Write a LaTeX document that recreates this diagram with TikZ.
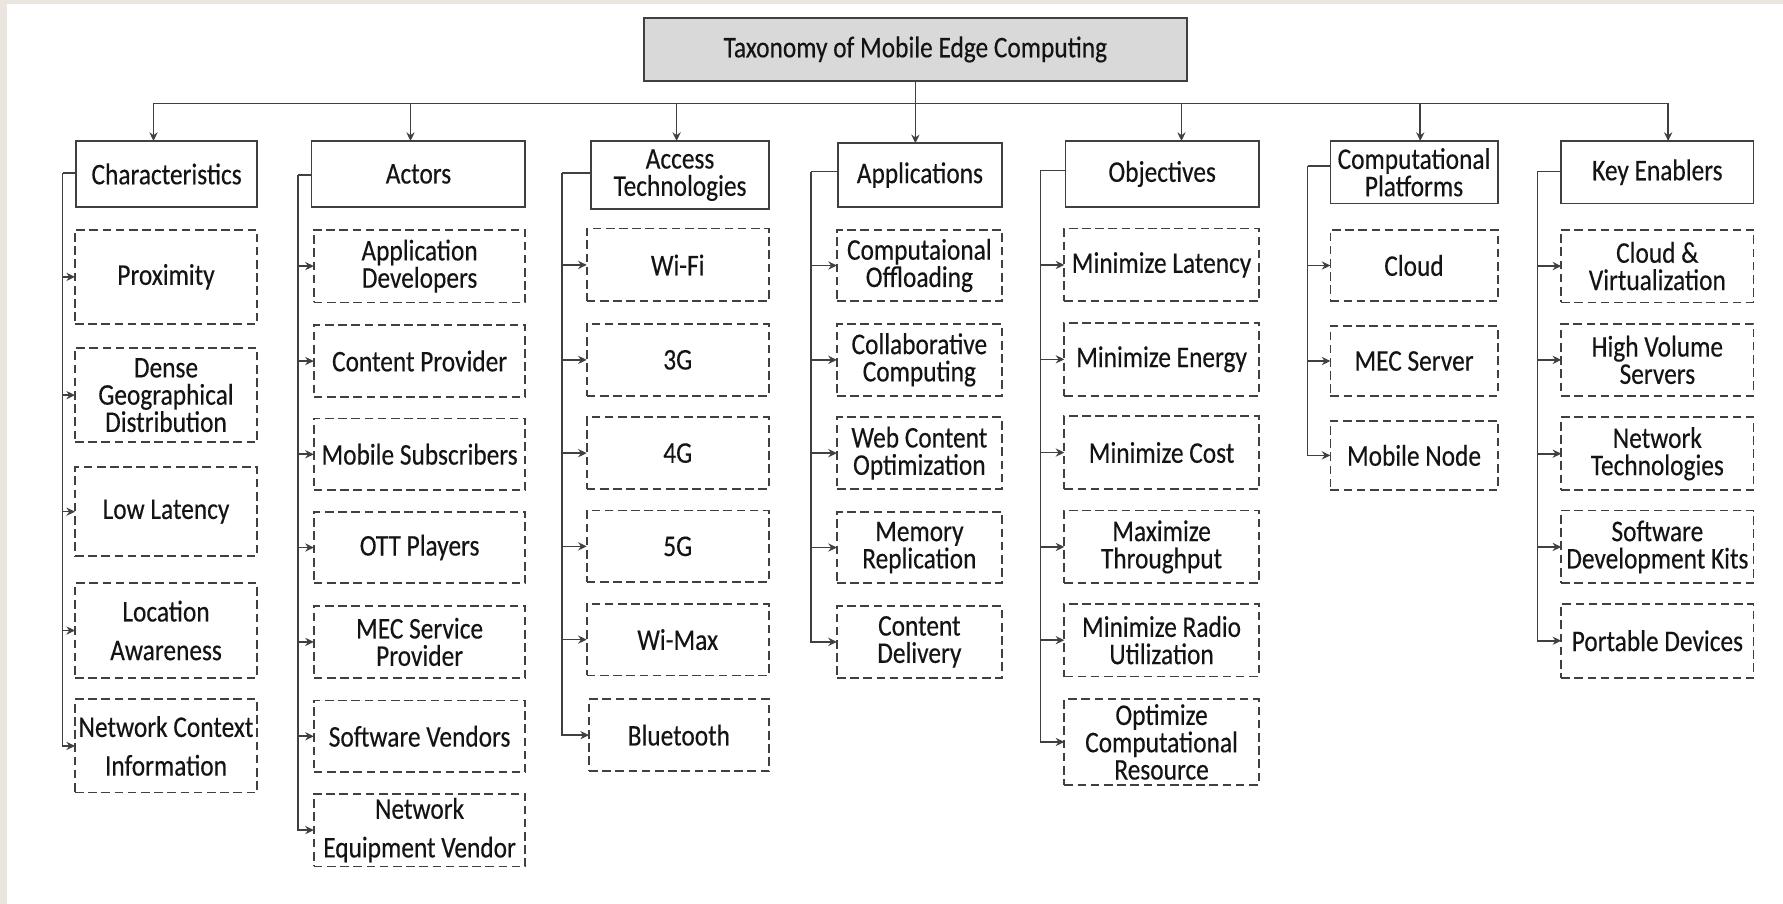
\documentclass[tikz,border=0pt]{standalone}
\usepackage{fontspec}
\setmainfont{Carlito}[FakeStretch=0.845,FakeBold=0.3]
\usetikzlibrary{arrows.meta}
\definecolor{ln}{HTML}{404040}
\definecolor{titlegray}{HTML}{D9D9D9}
\definecolor{beige}{HTML}{EAE6DF}
\definecolor{txt}{HTML}{141414}
\newcommand{\mkbx}[7]{\node[#6,minimum width={(#4-#2)*0.5pt},minimum height={(#5-#3)*0.5pt}] (#1) at ({(#2+#4)/2},{(#3+#5)/2}) {#7};}
\begin{document}
\begin{tikzpicture}[x=0.5pt,y=-0.5pt,
  base/.style={inner sep=0pt,outer sep=0pt,align=center,text=txt,font=\fontsize{13.2}{12}\selectfont},
  hdr/.style={base,draw=ln,line width=0.8pt},
  titlebox/.style={hdr,fill=titlegray},
  leaf/.style={base,draw=ln,line width=0.8pt,dash pattern=on 3.8pt off 2pt},
  wide/.style={font=\fontsize{13.2}{17}\selectfont},
  conn/.style={draw=ln,line width=0.7pt},
  arr/.style={conn,-{Stealth[length=3.8pt,width=3.6pt]}}
]
\fill[white] (0,0) rectangle (1568,795);
\useasboundingbox (0,0) rectangle (1568,795);
\fill[beige] (0,0) rectangle (1568,3.5);
\fill[beige] (0,0) rectangle (6,795);

% title
\mkbx{title}{566}{16}{1044}{71}{titlebox}{Taxonomy of Mobile Edge Computing}

% headers
\mkbx{h1}{67}{124}{226}{182}{hdr}{Characteristics}
\mkbx{h2}{274}{124}{462}{182}{hdr}{Actors}
\mkbx{h3}{520}{124}{676}{184}{hdr}{Access\\Technologies}
\mkbx{h4}{737}{126}{881}{182}{hdr}{Applications}
\mkbx{h5}{937}{124}{1107}{182}{hdr}{Objectives}
\mkbx{h6}{1170}{124}{1317}{179}{hdr}{Computational\\Platforms}
\mkbx{h7}{1373}{124}{1542}{179}{hdr}{Key Enablers}

% column 1
\mkbx{c11}{66}{202}{226}{285}{leaf}{Proximity}
\mkbx{c12}{66}{306}{226}{389}{leaf}{Dense\\Geographical\\Distribution}
\mkbx{c13}{66}{411}{226}{489}{leaf}{Low Latency}
\mkbx{c14}{66}{513}{226}{596}{leaf,wide}{Location\\Awareness}
\mkbx{c15}{66}{615}{226}{697}{leaf,wide}{Network Context\\Information}

% column 2
\mkbx{c21}{276}{202}{462}{266}{leaf}{Application\\Developers}
\mkbx{c22}{276}{286}{462}{349}{leaf}{Content Provider}
\mkbx{c23}{276}{368}{462}{431}{leaf}{Mobile Subscribers}
\mkbx{c24}{276}{450}{462}{513}{leaf}{OTT Players}
\mkbx{c25}{276}{533}{462}{596}{leaf}{MEC Service\\Provider}
\mkbx{c26}{276}{616}{462}{679}{leaf}{Software Vendors}
\mkbx{c27}{276}{698}{462}{762}{leaf,wide}{Network\\Equipment Vendor}

% column 3
\mkbx{c31}{516}{201}{676}{265}{leaf}{Wi-Fi}
\mkbx{c32}{516}{285}{676}{348}{leaf}{3G}
\mkbx{c33}{516}{367}{676}{430}{leaf}{4G}
\mkbx{c34}{516}{449}{676}{512}{leaf}{5G}
\mkbx{c35}{516}{531}{676}{594}{leaf}{Wi-Max}
\mkbx{c36}{518}{615}{676}{678}{leaf}{Bluetooth}

% column 4
\mkbx{c41}{736}{202}{881}{265}{leaf}{Computaional\\Offloading}
\mkbx{c42}{736}{285}{881}{348}{leaf}{Collaborative\\Computing}
\mkbx{c43}{736}{367}{881}{430}{leaf}{Web Content\\Optimization}
\mkbx{c44}{736}{450}{881}{513}{leaf}{Memory\\Replication}
\mkbx{c45}{736}{533}{881}{596}{leaf}{Content\\Delivery}

% column 5
\mkbx{c51}{936}{201}{1107}{265}{leaf}{Minimize Latency}
\mkbx{c52}{936}{284}{1107}{348}{leaf}{Minimize Energy}
\mkbx{c53}{936}{366}{1107}{430}{leaf}{Minimize Cost}
\mkbx{c54}{936}{449}{1107}{513}{leaf}{Maximize\\Throughput}
\mkbx{c55}{936}{531}{1107}{595}{leaf}{Minimize Radio\\Utilization}
\mkbx{c56}{936}{615}{1107}{690}{leaf}{Optimize\\Computational\\Resource}

% column 6
\mkbx{c61}{1170}{202}{1317}{265}{leaf}{Cloud}
\mkbx{c62}{1170}{287}{1317}{348}{leaf}{MEC Server}
\mkbx{c63}{1170}{370}{1317}{431}{leaf}{Mobile Node}

% column 7
\mkbx{c71}{1373}{202}{1542}{266}{leaf}{Cloud \&\\Virtualization}
\mkbx{c72}{1373}{285}{1542}{348}{leaf}{High Volume\\Servers}
\mkbx{c73}{1373}{367}{1542}{431}{leaf}{Network\\Technologies}
\mkbx{c74}{1373}{449}{1542}{513}{leaf}{Software\\Development Kits}
\mkbx{c75}{1373}{531}{1542}{596}{leaf}{Portable Devices}

% bus
\coordinate (bt) at (805,91);
\coordinate (d1) at (135,91);
\coordinate (d2) at (361,91);
\coordinate (d3) at (595,91);
\coordinate (d5) at (1039,91);
\coordinate (d6) at (1249,91);
\coordinate (d7) at (1467,91);
\draw[conn] (title.south) -- (bt);
\draw[conn] (d1) -- (d7);
\draw[arr] (d1) -- (d1 |- h1.north);
\draw[arr] (d2) -- (d2 |- h2.north);
\draw[arr] (d3) -- (d3 |- h3.north);
\draw[arr] (bt) -- (bt |- h4.north);
\draw[arr] (d5) -- (d5 |- h5.north);
\draw[arr] (d6) -- (d6 |- h6.north);
\draw[arr] (d7) -- (d7 |- h7.north);

% spines
\coordinate (s1) at (55,152);
\coordinate (s2) at (262,154);
\coordinate (s3) at (494,152);
\coordinate (s4) at (713,151);
\coordinate (s5) at (915,150);
\coordinate (s6) at (1150,146);
\coordinate (s7) at (1352,151);

\draw[conn] (h1.west |- s1) -- (s1);
\draw[arr] (s1) |- (c15.west);
\foreach \c in {c11,c12,c13,c14} \draw[arr] (s1 |- \c.west) -- (\c.west);

\draw[conn] (h2.west |- s2) -- (s2);
\draw[arr] (s2) |- (c27.west);
\foreach \c in {c21,c22,c23,c24,c25,c26} \draw[arr] (s2 |- \c.west) -- (\c.west);

\draw[conn] (h3.west |- s3) -- (s3);
\draw[arr] (s3) |- (c36.west);
\foreach \c in {c31,c32,c33,c34,c35} \draw[arr] (s3 |- \c.west) -- (\c.west);

\draw[conn] (h4.west |- s4) -- (s4);
\draw[arr] (s4) |- (c45.west);
\foreach \c in {c41,c42,c43,c44} \draw[arr] (s4 |- \c.west) -- (\c.west);

\draw[conn] (h5.west |- s5) -- (s5);
\draw[arr] (s5) |- (c56.west);
\foreach \c in {c51,c52,c53,c54,c55} \draw[arr] (s5 |- \c.west) -- (\c.west);

\draw[conn] (h6.west |- s6) -- (s6);
\draw[arr] (s6) |- (c63.west);
\foreach \c in {c61,c62} \draw[arr] (s6 |- \c.west) -- (\c.west);

\draw[conn] (h7.west |- s7) -- (s7);
\draw[arr] (s7) |- (c75.west);
\foreach \c in {c71,c72,c73,c74} \draw[arr] (s7 |- \c.west) -- (\c.west);
\end{tikzpicture}
\end{document}
